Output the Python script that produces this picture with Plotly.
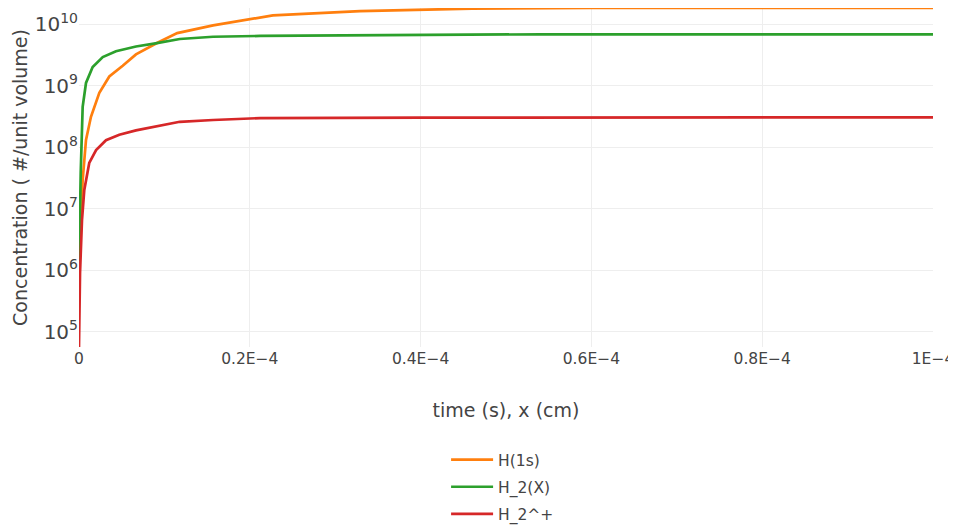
import numpy as np
import plotly.graph_objects as go

# ---- data (time in seconds, concentration in #/unit volume) ----
t_h1s = [0, 0.23e-6, 0.43e-6, 0.82e-6, 1.4e-6, 2.38e-6, 3.55e-6, 5.12e-6, 6.67e-6,
         9.13e-6, 11.5e-6, 15.7e-6, 22.7e-6, 32.9e-6, 46e-6, 60e-6, 100e-6]
c_h1s = [1.0e6, 5.8e6, 2.9e7, 1.3e8, 3.1e8, 7.6e8, 1.4e9, 2.1e9, 3.2e9,
         4.9e9, 7.1e9, 9.5e9, 1.38e10, 1.62e10, 1.78e10, 1.82e10, 1.82e10]

t_h2x = [0, 0.035e-6, 0.2e-6, 0.43e-6, 0.82e-6, 1.6e-6, 2.78e-6, 4.33e-6, 6.67e-6,
         9.13e-6, 11.8e-6, 15.7e-6, 21.2e-6, 54e-6, 100e-6]
c_h2x = [1.0e6, 3.1e6, 3.8e7, 4.5e8, 1.1e9, 2.0e9, 2.9e9, 3.6e9, 4.3e9,
         4.9e9, 5.7e9, 6.2e9, 6.4e9, 6.8e9, 6.8e9]

t_h2p = [0, 0.12e-6, 0.35e-6, 0.62e-6, 1.2e-6, 2.0e-6, 3.16e-6, 4.72e-6, 6.67e-6,
         8.5e-6, 11.8e-6, 15.7e-6, 21.2e-6, 40e-6, 100e-6]
c_h2p = [5.6e4, 8.9e5, 6.5e6, 2.0e7, 5.5e7, 8.9e7, 1.29e8, 1.58e8, 1.86e8,
         2.1e8, 2.57e8, 2.75e8, 2.95e8, 3.0e8, 3.04e8]

series_names = ["H(1s)", "H_2(X)", "H_2^+"]
series_colors = ["#ff7f0e", "#2ca02c", "#d62728"]

x_tickvals = [0, 0.2e-4, 0.4e-4, 0.6e-4, 0.8e-4, 1e-4]
x_ticktext = ["0", "0.2E\u22124", "0.4E\u22124", "0.6E\u22124", "0.8E\u22124", "1E\u22124"]

FONT = "DejaVu Sans"

fig = go.Figure()
for t, c, name, col in zip([t_h1s, t_h2x, t_h2p], [c_h1s, c_h2x, c_h2p],
                           series_names, series_colors):
    fig.add_trace(go.Scatter(x=t, y=c, mode="lines", name=name, legendgroup=name,
                             line=dict(color=col, width=2.7)))

all_c = c_h1s + c_h2x + c_h2p
ymin = np.log10(min(all_c))
ymax = np.log10(max(all_c))

# the page body adds an 8px offset, so the figure is 8px smaller on each side
fig.update_layout(
    width=948, height=523,
    template="plotly_white",
    font=dict(family=FONT, color="#444"),
    margin=dict(l=71, r=23, t=0, b=184),
    showlegend=True,
    legend=dict(orientation="v", x=0.496, xanchor="center", y=-0.5428, yanchor="bottom",
                font=dict(size=15.5, family=FONT, color="#444"), itemwidth=42,
                tracegroupgap=4),
    xaxis=dict(range=[0, 1e-4], tickvals=x_tickvals, ticktext=x_ticktext,
               tickfont=dict(size=15.5), showline=False, zeroline=False,
               gridcolor="#eeeeee", automargin=False,
               title=dict(text="time (s), x (cm)", font=dict(size=19), standoff=37)),
    yaxis=dict(type="log", range=[ymin, ymax], dtick=1, exponentformat="power",
               tickfont=dict(size=16), gridcolor="#eeeeee", zeroline=False,
               automargin=False,
               title=dict(text="Concentration ( #/unit volume)", font=dict(size=19),
                          standoff=2)),
)

fig.write_html("out.html", config={"displayModeBar": False})
